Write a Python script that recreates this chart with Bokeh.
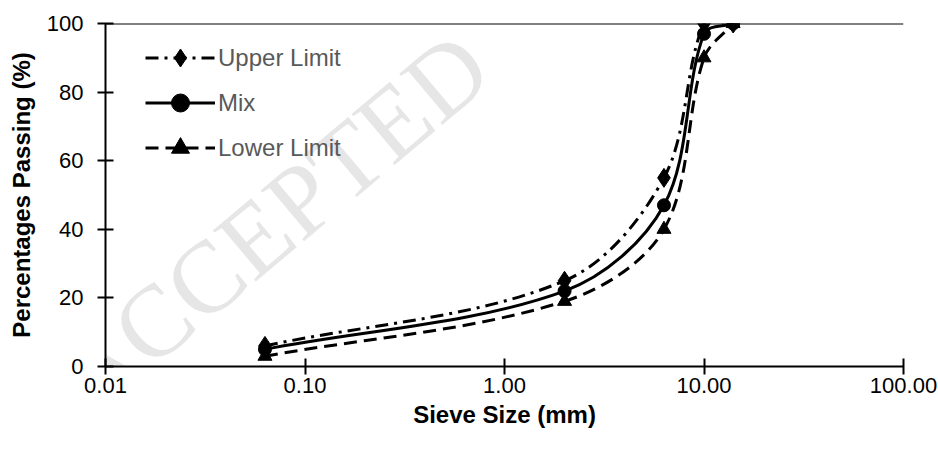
import numpy as np
from bokeh.plotting import figure
from bokeh.models import Span, Legend, LegendItem, FixedTicker, ColumnDataSource, Label
from bokeh.embed import file_html
from bokeh.resources import INLINE

# ---- data ----
sieve = [0.063, 2.0, 6.3, 10.0, 14.0]
upper = [6, 25, 55, 100, 100]
mix = [5, 22, 47, 97, 100]
lower = [3, 19, 40, 90, 100]
x_ticks = [0.01, 0.1, 1, 10, 100]
x_tick_labels = ["0.01", "0.10", "1.00", "10.00", "100.00"]
y_ticks = [0, 20, 40, 60, 80, 100]

# frame geometry (pixels)
W, H = 938, 450
BL, BR, BT, BB = 105, 35, 23, 84
KX = (W - BL - BR) / 4.0      # px per decade
KY = (H - BT - BB) / 100.0    # px per percent


def smooth_source(xs, ys):
    """Excel-like smoothed line: cubic Bezier segments with chord-length scaled
    tangents, computed in screen-proportional space (log x)."""
    P = np.column_stack([np.log10(np.array(xs, float)) * KX, np.array(ys, float) * KY])
    n = len(P)
    d = dict(x0=[], y0=[], x1=[], y1=[], cx0=[], cy0=[], cx1=[], cy1=[])
    seg = [np.hypot(*(P[i + 1] - P[i])) for i in range(n - 1)]

    def tangent(i):
        prev = P[i - 1] if i > 0 else P[i]
        nxt = P[i + 1] if i < n - 1 else P[i]
        return nxt - prev

    for i in range(n - 1):
        dprev = seg[i - 1] if i > 0 else 0.0
        dnext = seg[i + 1] if i + 1 < n - 1 else 0.0
        c1 = P[i] + tangent(i) * seg[i] / (dprev + seg[i]) / 3.0
        c2 = P[i + 1] - tangent(i + 1) * seg[i] / (seg[i] + dnext) / 3.0
        for key, pt in (("0", P[i]), ("1", P[i + 1])):
            d["x" + key].append(10 ** (pt[0] / KX)); d["y" + key].append(pt[1] / KY)
        d["cx0"].append(10 ** (c1[0] / KX)); d["cy0"].append(c1[1] / KY)
        d["cx1"].append(10 ** (c2[0] / KX)); d["cy1"].append(c2[1] / KY)
    return ColumnDataSource(d)


p = figure(width=W, height=H, x_axis_type="log", x_range=(0.01, 100), y_range=(0, 100),
           output_backend="svg", toolbar_location=None,
           min_border_left=BL, min_border_right=BR, min_border_top=BT, min_border_bottom=BB)
p.outline_line_color = None
p.background_fill_color = "white"
p.border_fill_color = "white"
p.xgrid.visible = False
p.ygrid.visible = False

# watermark (kept fully inside the picture)
wm = Label(x=0.0687, y=42.0, text="ACCEPTED", angle=np.deg2rad(40),
           text_font="Liberation Serif", text_font_size="102px", text_color="#e6e6e6",
           text_baseline="middle", text_align="center", level="underlay")
p.add_layout(wm)

top_line = Span(location=100, dimension="width", line_color="black", line_width=2)
p.add_layout(top_line)

styles = [
    ("Upper Limit", upper, "13 6 3 6", "diamond", 19),
    ("Mix", mix, None, "circle", 13),
    ("Lower Limit", lower, "13 7", "triangle", 14),
]
items = []
for name, ys, dash, marker, size in styles:
    src = smooth_source(sieve, ys)
    kw = dict(line_color="black", line_width=3)
    if dash:
        kw["line_dash"] = dash
    b = p.bezier(x0="x0", y0="y0", x1="x1", y1="y1", cx0="cx0", cy0="cy0", cx1="cx1", cy1="cy1",
                 source=src, **kw)
    s = p.scatter(sieve, ys, marker=marker, size=size, fill_color="black", line_color="black")
    items.append(LegendItem(label=name, renderers=[b, s]))

legend = Legend(items=items, location=(40, 196), glyph_width=70, glyph_height=45,
                label_height=45, label_standoff=3, spacing=0, padding=0, margin=0,
                label_text_font="Liberation Sans", label_text_font_size="24px",
                label_text_color="#595959", border_line_color=None,
                background_fill_alpha=0)
p.add_layout(legend)

for ax in (p.xaxis[0], p.yaxis[0]):
    ax.axis_line_color = "black"
    ax.axis_line_width = 2
    ax.major_tick_line_color = "black"
    ax.major_tick_line_width = 2
    ax.major_tick_in = 8
    ax.major_tick_out = 8
    ax.minor_tick_line_color = None
    ax.major_label_text_font = "Liberation Sans"
    ax.major_label_text_font_size = "22px"
    ax.major_label_text_color = "black"
    ax.axis_label_text_font = "Liberation Sans"
    ax.axis_label_text_font_size = "24px"
    ax.axis_label_text_font_style = "bold"
    ax.axis_label_text_color = "black"

p.xaxis[0].ticker = FixedTicker(ticks=x_ticks, minor_ticks=[])
p.xaxis[0].major_label_overrides = {t: l for t, l in zip(x_ticks, x_tick_labels)}
p.xaxis[0].major_label_standoff = 3
p.xaxis[0].axis_label = "Sieve Size (mm)"
p.xaxis[0].axis_label_standoff = 5

p.yaxis[0].ticker = FixedTicker(ticks=y_ticks, minor_ticks=[])
p.yaxis[0].major_label_standoff = 14
p.yaxis[0].axis_label = "Percentages Passing (%)"
p.yaxis[0].axis_label_standoff = 9

open("out.html", "w").write(file_html(p, INLINE))
